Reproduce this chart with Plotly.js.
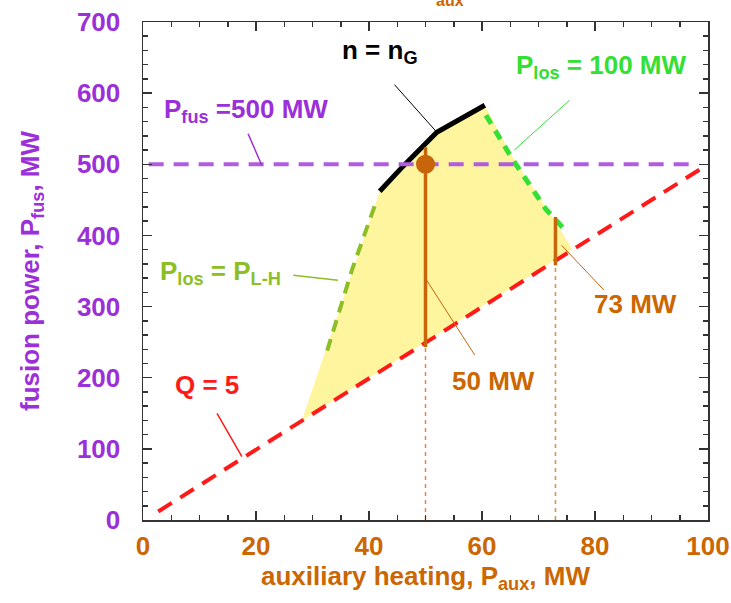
<!DOCTYPE html>
<html>
<head>
<meta charset="utf-8">
<script src="https://cdn.plot.ly/plotly-3.0.1.min.js"></script>
<style>html,body{margin:0;padding:0;background:#fff;}#chart{width:731px;height:603px;}</style>
</head>
<body>
<div id="chart"></div>
<script>
// ---- data (P_aux in MW, P_fus in MW) ----
const windowX = [28.1, 41.9, 46.0, 52.0, 60.5, 65.4, 71.3, 76.0, 28.1];
const windowY = [140, 462, 497, 545, 583, 510, 440, 381, 140];

const q5X = [2.7, 99];
const q5Y = [12, 495];

const pfusX = [1, 98];
const pfusY = [500, 500];

const plhX = [32.6, 37.0, 41.3];
const plhY = [238, 352, 448];

const p100X = [60.7, 65.4, 71.3, 75.0];
const p100Y = [569, 507, 437, 405];

const ngX = [41.9, 46.0, 52.0, 60.5];
const ngY = [462, 497, 545, 583];

const aux50X = [50, 50];
const aux50Y = [243, 524];
const aux73X = [73, 73];
const aux73Y = [358, 426];

const guide50Y = [0, 243];
const guide73Y = [0, 358];

const pointX = [50];
const pointY = [500];

const xTicks = [0, 20, 40, 60, 80, 100];
const yTicks = [0, 100, 200, 300, 400, 500, 600, 700];

// leader lines [x0, x1], [y0, y1]
const leadNgX = [44.5, 51.9],  leadNgY = [612, 546];
const lead100X = [75.5, 65.7], lead100Y = [590, 520];
const leadFusX = [18.6, 21.0], leadFusY = [543, 499];
const leadLhX = [26.6, 34.5],  leadLhY = [344, 337];
const leadQX = [13.1, 17.5],   leadQY = [150, 89];
const lead50X = [49.8, 58.7],  lead50Y = [342, 232];
const lead73X = [74.1, 81.6],  lead73Y = [386, 323];

// label positions
const labels = [
  {text: 'n = n<sub>G</sub>', x: 41.9, y: 658, color: '#000000'},
  {text: 'P<sub>los</sub> = 100 MW', x: 81.2, y: 637, color: '#33e033'},
  {text: 'P<sub>fus</sub> =500 MW', x: 18.2, y: 576, color: '#9b30d9'},
  {text: 'P<sub>los</sub> = P<sub>L-H</sub>', x: 13.8, y: 348, color: '#8cbf26'},
  {text: 'Q = 5', x: 11.4, y: 190, color: '#ff1a1a'},
  {text: '50 MW', x: 62.0, y: 195, color: '#cc6600'},
  {text: '73 MW', x: 87.2, y: 304, color: '#cc6600'}
];

const FONT = 'Liberation Sans, Arial, sans-serif';
const ORANGE = '#cc6600';
const PURPLE = '#9b30d9';

function line(x, y, color, width, dash) {
  return {type: 'scatter', mode: 'lines', x: x, y: y, hoverinfo: 'skip',
          line: {color: color, width: width, dash: dash || 'solid'}};
}

const traces = [
  {type: 'scatter', mode: 'lines', x: windowX, y: windowY, fill: 'toself',
   fillcolor: '#fff59e', line: {width: 0, color: '#fff59e'}, hoverinfo: 'skip'},
  line(aux50X, guide50Y, '#d98c40', 1.5, '4px,4px'),
  line(aux73X, guide73Y, '#d98c40', 1.5, '4px,4px'),
  line(q5X, q5Y, '#ff1a1a', 4, '16px,10px'),
  line(plhX, plhY, '#8cbf26', 4, '12px,8px'),
  line(p100X, p100Y, '#33e033', 5, '10px,8px'),
  line(ngX, ngY, '#000000', 5),
  line(pfusX, pfusY, '#b05ce0', 4, '15px,10px'),
  line(aux50X, aux50Y, '#c8650a', 3.5),
  line(aux73X, aux73Y, '#c8650a', 3.5),
  {type: 'scatter', mode: 'markers', x: pointX, y: pointY, hoverinfo: 'skip',
   marker: {size: 19, color: '#c8650a'}},
  line(leadNgX, leadNgY, '#000000', 1),
  line(lead100X, lead100Y, '#33e033', 1),
  line(leadFusX, leadFusY, PURPLE, 1.5),
  line(leadLhX, leadLhY, '#8cbf26', 1.5),
  line(leadQX, leadQY, '#ff1a1a', 1.5),
  line(lead50X, lead50Y, '#c8650a', 1),
  line(lead73X, lead73Y, '#c8650a', 1)
];

const annotations = labels.map(l => ({
  text: l.text, x: l.x, y: l.y, xref: 'x', yref: 'y', showarrow: false,
  font: {family: FONT, size: 26, color: l.color, weight: 'bold'}
}));
// partially visible subscript of a title cut off above the picture
annotations.push({text: 'aux', xref: 'paper', yref: 'paper', x: 0.543, y: 1.064,
  showarrow: false, font: {family: FONT, size: 16, color: ORANGE, weight: 'bold'}});

const layout = {
  width: 731, height: 603,
  margin: {l: 143, r: 23, t: 22, b: 83},
  paper_bgcolor: '#ffffff', plot_bgcolor: '#ffffff',
  showlegend: false,
  xaxis: {
    range: [0, 100], tickmode: 'array', tickvals: xTicks,
    ticks: 'inside', ticklen: 9, tickwidth: 1.5, tickcolor: '#333',
    minor: {dtick: 5, tick0: 0, ticks: 'inside', ticklen: 5, tickwidth: 1.5, tickcolor: '#333', showgrid: false},
    showline: true, linecolor: '#333', linewidth: 1.5, mirror: 'allticks',
    showgrid: false, zeroline: false, ticklabelstandoff: 2,
    tickfont: {family: FONT, size: 26, color: ORANGE, weight: 'bold'},
    title: {text: 'auxiliary heating, P<sub>aux</sub>, MW', standoff: 6,
            font: {family: FONT, size: 26, color: ORANGE, weight: 'bold'}}
  },
  yaxis: {
    range: [0, 700], tickmode: 'array', tickvals: yTicks,
    ticks: 'inside', ticklen: 9, tickwidth: 1.5, tickcolor: '#333',
    minor: {dtick: 20, tick0: 0, ticks: 'inside', ticklen: 5, tickwidth: 1.5, tickcolor: '#333', showgrid: false},
    showline: true, linecolor: '#333', linewidth: 1.5, mirror: 'allticks',
    showgrid: false, zeroline: false, ticklabelstandoff: 16,
    tickfont: {family: FONT, size: 26, color: PURPLE, weight: 'bold'},
    title: {text: 'fusion power, P<sub>fus</sub>, MW', standoff: 30,
            font: {family: FONT, size: 26, color: PURPLE, weight: 'bold'}}
  },
  annotations: annotations
};

Plotly.newPlot('chart', traces, layout, {displayModeBar: false, staticPlot: true});
</script>
</body>
</html>
